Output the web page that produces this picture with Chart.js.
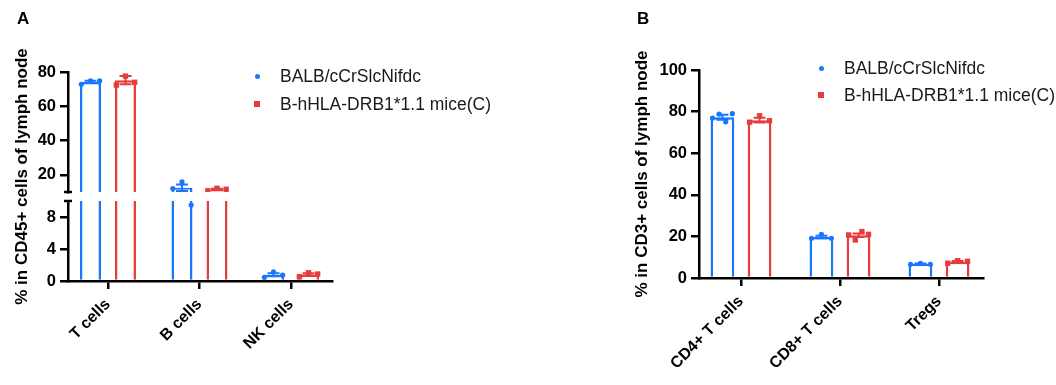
<!DOCTYPE html>
<html>
<head>
<meta charset="utf-8">
<script src="https://cdn.jsdelivr.net/npm/chart.js@4.4.0/dist/chart.umd.min.js"></script>
<style>
  body { margin: 0; background: #fff; width: 1056px; height: 385px; position: relative; overflow: hidden;
         font-family: "Liberation Sans", Arial, sans-serif; }
  canvas { position: absolute; top: 0; }
  .panel { position: absolute; font-weight: bold; font-size: 17px; }
  .leg { position: absolute; font-size: 17.5px; line-height: 20px; color: #1a1a1a; white-space: nowrap; }
  .mk { position: absolute; }
</style>
</head>
<body>
<canvas id="chartA" width="528" height="385" style="left:0"></canvas>
<canvas id="chartB" width="528" height="385" style="left:528px"></canvas>
<div class="panel" style="left:17px; top:9px">A</div>
<div class="panel" style="left:637px; top:9px">B</div>
<div id="legends"></div>
<script>
// categories + series
const categoriesA = ['T cells', 'B cells', 'NK cells'];
const categoriesB = ['CD4+ T cells', 'CD8+ T cells', 'Tregs'];
const seriesNames = ['BALB/cCrSlcNifdc', 'B-hHLA-DRB1*1.1 mice(C)'];

// panel A: % in CD45+ cells (mean, SEM, single mice)
const balbMeanA = [74.2, 12.5, 0.78];
const balbSemA = [0.65, 1.85, 0.2];
const balbPointsA = [[72.8, 74.9, 74.8], [12.0, 15.9, 9.5], [0.46, 1.15, 0.74]];
const hlaMeanA = [75.2, 11.5, 0.81];
const hlaSemA = [2.4, 0.45, 0.15];
const hlaPointsA = [[72.4, 77.6, 74.0], [10.7, 12.2, 11.6], [0.53, 1.03, 0.87]];

// panel B: % in CD3+ cells
const balbMeanB = [77.3, 19.7, 6.8];
const balbSemB = [1.2, 0.6, 0.15];
const balbPointsB = [[76.9, 78.8, 75.1, 79.0], [19.1, 21.0, 19.1], [6.6, 7.1, 6.6]];
const hlaMeanB = [75.9, 20.6, 7.8];
const hlaSemB = [1.1, 0.85, 0.35];
const hlaPointsB = [[74.9, 78.0, 75.6], [20.7, 18.3, 22.3, 21.0], [7.1, 8.3, 8.0]];

// tick labels
const yTicksHighA = [20, 40, 60, 80];
const yTicksLowA = [0, 4, 8];
const yTicksB = [0, 20, 40, 60, 80, 100];
const BREAK_A = 10;

const BLUE = '#1a75ff', RED = '#e63c3c';
const FONT = '"Liberation Sans", Arial, sans-serif';
const BW = 2.5;
const JITTER = 0.1;
const CAP = 6;

Chart.defaults.font.family = FONT;

function spread(points, shift, keep) {
  const out = [];
  points.forEach((vals, i) => {
    vals.forEach((v, j) => {
      const jit = vals.length > 1 ? (j / (vals.length - 1) - 0.5) * 2 * JITTER : 0;
      if (keep(v)) out.push({x: i + shift + jit, y: v});
    });
  });
  return out;
}

function xAxis(categories, min, max, height) {
  return {
    type: 'linear', min: min, max: max, offset: false,
    afterBuildTicks: s => { s.ticks = categories.map((c, i) => ({value: i})); },
    afterFit: s => { s.height = height; },
    ticks: {
      callback: v => categories[v], minRotation: 45, maxRotation: 45, autoSkip: false,
      padding: 6, color: '#000', font: {size: 16, weight: 'bold'}
    },
    grid: { drawOnChartArea: false, offset: false, tickLength: 8, color: '#000', lineWidth: BW },
    border: { color: '#000', width: BW, z: 1 }
  };
}

function yAxis(min, max, ticks, width, extra) {
  return Object.assign({
    type: 'linear', position: 'left', min: min, max: max, stacked: false,
    afterBuildTicks: s => { s.ticks = ticks.map(v => ({value: v})); },
    afterFit: s => { s.width = width; },
    ticks: { padding: 4, color: '#000', font: {size: 16.5, weight: 'bold'} },
    grid: { drawOnChartArea: false, tickLength: 8, color: '#000', lineWidth: BW },
    border: { color: '#000', width: BW, z: 1 }
  }, extra || {});
}

function yTitle(text, pad) {
  return { display: true, text: text, color: '#000', font: {size: 17, weight: 'bold'}, padding: {top: pad, bottom: 0} };
}

function pointSet(label, data, color, style, r, yID) {
  return {
    type: 'scatter', label: label, data: data, yAxisID: yID, order: 1,
    pointStyle: style, pointRadius: r, pointBackgroundColor: color, pointBorderWidth: 0
  };
}

// error bars drawn right after the last bar dataset, below the dots
function errorBars(groups, pixelFor) {
  return {
    id: 'errorBars',
    afterDatasetDraw(chart, args) {
      if (args.index !== 0) return;
      const ctx = chart.ctx;
      groups.forEach(g => {
        const meta = chart.getDatasetMeta(g.dataset);
        ctx.save();
        ctx.strokeStyle = g.color;
        ctx.lineWidth = 2;
        g.mean.forEach((m, i) => {
          const x = meta.data[i].x;
          const y1 = pixelFor(chart, m + g.sem[i]);
          const y2 = pixelFor(chart, m - g.sem[i]);
          ctx.beginPath();
          ctx.moveTo(x, y1); ctx.lineTo(x, y2);
          ctx.moveTo(x - CAP, y1); ctx.lineTo(x + CAP, y1);
          ctx.moveTo(x - CAP, y2); ctx.lineTo(x + CAP, y2);
          ctx.stroke();
        });
        ctx.restore();
      });
    }
  };
}

// ---------- panel A (broken y axis) ----------
const GAP_A = 9;
const CAT_A = 0.765, BAR_A = 0.6;
const openTop = {top: 0, left: BW, right: BW, bottom: 0};
const closedTop = {top: BW, left: BW, right: BW, bottom: 0};

function lowBars(label, means, color, stack) {
  return {
    type: 'bar', label: label, stack: stack, yAxisID: 'yLow', order: 2,
    data: means.map((m, i) => ({x: i, y: Math.min(m, BREAK_A)})),
    borderColor: color, backgroundColor: '#fff', borderSkipped: false,
    borderWidth: ctx => means[ctx.dataIndex] > BREAK_A ? openTop : closedTop,
    categoryPercentage: CAT_A, barPercentage: BAR_A
  };
}
function highBars(label, means, color, stack) {
  return {
    type: 'bar', label: label, stack: stack, yAxisID: 'yHigh', order: 2,
    data: means.map((m, i) => m > BREAK_A ? {x: i, y: [BREAK_A, m]} : null).filter(d => d),
    borderColor: color, backgroundColor: '#fff', borderSkipped: false, borderWidth: closedTop,
    categoryPercentage: CAT_A, barPercentage: BAR_A
  };
}

const pixA = (chart, v) => v >= BREAK_A ? chart.scales.yHigh.getPixelForValue(v) : chart.scales.yLow.getPixelForValue(v);
const hi = v => v > BREAK_A, lo = v => v <= BREAK_A;

const splitAxis = {
  id: 'splitAxis',
  afterLayout(chart) {
    const s = chart.scales.yLow;
    s.top += GAP_A;
    s.height = s.bottom - s.top;
    s.configure();
  },
  afterDraw(chart) {
    const ctx = chart.ctx, x = chart.scales.yHigh.right;
    ctx.save();
    ctx.strokeStyle = '#000';
    ctx.lineWidth = BW;
    [chart.scales.yHigh.bottom, chart.scales.yLow.top].forEach(y => {
      ctx.beginPath(); ctx.moveTo(x - 4, y); ctx.lineTo(x + 4, y); ctx.stroke();
    });
    ctx.restore();
  }
};

new Chart(document.getElementById('chartA'), {
  type: 'bar',
  data: {
    datasets: [
      lowBars(seriesNames[0], balbMeanA, BLUE, 'balb'),
      highBars(seriesNames[0], balbMeanA, BLUE, 'balb'),
      lowBars(seriesNames[1], hlaMeanA, RED, 'hla'),
      highBars(seriesNames[1], hlaMeanA, RED, 'hla'),
      pointSet(seriesNames[0], spread(balbPointsA, -CAT_A / 4, lo), BLUE, 'circle', 2.6, 'yLow'),
      pointSet(seriesNames[0], spread(balbPointsA, -CAT_A / 4, hi), BLUE, 'circle', 2.6, 'yHigh'),
      pointSet(seriesNames[1], spread(hlaPointsA, CAT_A / 4, lo), RED, 'rect', 3.8, 'yLow'),
      pointSet(seriesNames[1], spread(hlaPointsA, CAT_A / 4, hi), RED, 'rect', 3.8, 'yHigh')
    ]
  },
  options: {
    responsive: false, animation: false, events: [],
    layout: { padding: {left: 0, right: 196, top: 72, bottom: 0} },
    plugins: { legend: {display: false}, tooltip: {enabled: false} },
    scales: {
      x: xAxis(categoriesA, -0.437, 2.448, 104),
      yTitle: {
        type: 'linear', position: 'left', weight: 10, min: 0, max: 1,
        afterFit: s => { s.width = 31; },
        ticks: {display: false}, grid: {display: false}, border: {display: false},
        title: yTitle('% in CD45+ cells of lymph node', 12)
      },
      // stacked boxes on the left are laid out in reverse index order: lower segment first here
      yLow: yAxis(0, 10, yTicksLowA, 37, {stack: 'a', stackWeight: 89}),
      yHigh: yAxis(10, 80, yTicksHighA, 37, {stack: 'a', stackWeight: 120})
    }
  },
  plugins: [splitAxis, errorBars([
    {dataset: 0, mean: balbMeanA, sem: balbSemA, color: BLUE},
    {dataset: 2, mean: hlaMeanA, sem: hlaSemA, color: RED}
  ], pixA)]
});

// ---------- panel B ----------
const CAT_B = 0.75, BAR_B = 0.64;

function barsB(label, means, color, stack) {
  return {
    type: 'bar', label: label, stack: stack, yAxisID: 'y', order: 2,
    data: means.map((m, i) => ({x: i, y: m})),
    borderColor: color, backgroundColor: '#fff', borderWidth: BW,
    categoryPercentage: CAT_B, barPercentage: BAR_B
  };
}

new Chart(document.getElementById('chartB'), {
  type: 'bar',
  data: {
    datasets: [
      barsB(seriesNames[0], balbMeanB, BLUE, 'balb'),
      barsB(seriesNames[1], hlaMeanB, RED, 'hla'),
      pointSet(seriesNames[0], spread(balbPointsB, -CAT_B / 4, () => true), BLUE, 'circle', 2.6, 'y'),
      pointSet(seriesNames[1], spread(hlaPointsB, CAT_B / 4, () => true), RED, 'rect', 3.8, 'y')
    ]
  },
  options: {
    responsive: false, animation: false, events: [],
    layout: { padding: {left: 94, right: 73, top: 70, bottom: 0} },
    plugins: { legend: {display: false}, tooltip: {enabled: false} },
    scales: {
      x: xAxis(categoriesB, -0.424, 2.444, 107),
      y: yAxis(0, 100, yTicksB, 77, {title: yTitle('% in CD3+ cells of lymph node', 10)})
    }
  },
  plugins: [errorBars([
    {dataset: 0, mean: balbMeanB, sem: balbSemB, color: BLUE},
    {dataset: 1, mean: hlaMeanB, sem: hlaSemB, color: RED}
  ], (chart, v) => chart.scales.y.getPixelForValue(v))]
});

// ---------- legends ----------
function legend(x, rows) {
  const box = document.getElementById('legends');
  seriesNames.forEach((name, k) => {
    const y = rows[k];
    const mk = document.createElement('div');
    mk.className = 'mk';
    const sz = k === 0 ? 5 : 6;
    mk.style.cssText = `left:${x - sz / 2}px; top:${y - sz / 2}px; width:${sz}px; height:${sz}px;` +
      `background:${k === 0 ? BLUE : RED}; border-radius:${k === 0 ? '50%' : '0'}`;
    box.appendChild(mk);
    const t = document.createElement('div');
    t.className = 'leg';
    t.style.left = (x + 23) + 'px';
    t.style.top = (y - 10) + 'px';
    t.textContent = name;
    box.appendChild(t);
  });
}
legend(257, [76, 104]);
legend(821, [68, 95]);
</script>
</body>
</html>
